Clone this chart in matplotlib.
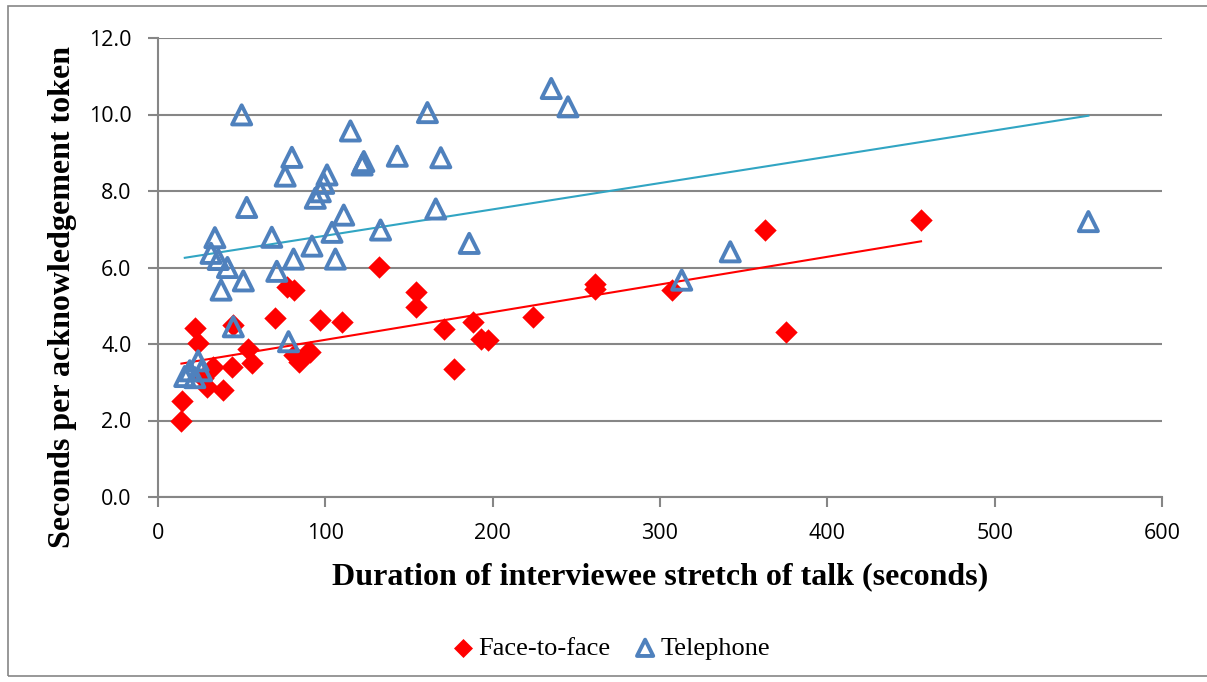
import numpy as np
import matplotlib.pyplot as plt
from matplotlib.patches import Rectangle
from matplotlib.ticker import FormatStrFormatter

# face-to-face interviews
f2f_dur = [14, 14.5, 22, 24, 27, 29, 33, 39, 44, 45, 54, 56, 70, 77, 81, 81, 84, 89, 91,
           97, 110, 132, 154, 154, 171, 177, 188, 193, 197, 224, 261, 261, 307, 363, 375, 456]
f2f_sec = [2.0, 2.5, 4.42, 4.03, 3.1, 2.88, 3.41, 2.8, 3.41, 4.5, 3.87, 3.5, 4.67, 5.5, 5.4, 3.71,
           3.54, 3.76, 3.8, 4.63, 4.58, 6.02, 5.37, 4.98, 4.4, 3.34, 4.58, 4.13, 4.1, 4.7, 5.57,
           5.45, 5.4, 6.98, 4.32, 7.24]

# telephone interviews
tel_dur = [16, 19, 22, 24, 26, 31.7, 34, 36, 37.7, 41.5, 45, 50, 51, 53, 68, 71, 76, 78,
           80, 81, 92, 94, 97, 99, 101, 104, 106, 111, 115, 122, 123, 133, 143, 161, 166, 169,
           186, 235, 245, 313, 342, 556]
tel_sec = [3.15, 3.3, 3.12, 3.56, 3.3, 6.37, 6.78, 6.21, 5.41, 6.0, 4.45, 9.99, 5.65,
           7.57, 6.79, 5.9, 8.39, 4.06, 8.88, 6.22, 6.56, 7.81, 7.98, 8.2, 8.42, 6.92, 6.22, 7.37,
           9.57, 8.68, 8.77, 6.98, 8.91, 10.05, 7.53, 8.87, 6.63, 10.68, 10.2, 5.67, 6.41, 7.2]

grey = '#868686'
fig = plt.figure(figsize=(12.07, 6.82), dpi=100)
fig.patches.append(Rectangle((8 / 1207, 6 / 682), 1.0, 670 / 682, transform=fig.transFigure,
                             fill=False, edgecolor=grey, linewidth=1.2))
ax = fig.add_axes([158 / 1207, 1 - 497 / 682, 1004 / 1207, 459 / 682])

# linear trendlines, spanning the data like Excel does
for x, y, c in [(f2f_dur, f2f_sec, '#FF0000'), (tel_dur, tel_sec, '#31A5C3')]:
    k, b = np.polyfit(x, y, 1)
    xs = np.array([min(x), max(x)])
    ax.plot(xs, k * xs + b, color=c, linewidth=1.5, zorder=2)

ax.scatter(f2f_dur, f2f_sec, marker='D', s=130, color='#FF0000', linewidths=0,
           label='Face-to-face', zorder=3)
ax.scatter(tel_dur, tel_sec, marker='^', s=190, facecolors='none', edgecolors='#4F81BD',
           linewidths=2.8, label='Telephone', zorder=4)

ax.set_xlim(0, 600)
ax.set_ylim(0, 12)
ax.set_xticks(np.arange(0, 601, 100))
ax.set_yticks(np.arange(0, 12.1, 2))
ax.yaxis.set_major_formatter(FormatStrFormatter('%.1f'))
ax.grid(axis='y', color=grey, linewidth=1.5)
ax.set_axisbelow(True)
for s in ['top', 'right']:
    ax.spines[s].set_visible(False)
for s in ['left', 'bottom']:
    ax.spines[s].set_color(grey)
    ax.spines[s].set_linewidth(1.5)
ax.tick_params(direction='out', length=7, width=1.5, color=grey, labelsize=15.5, pad=12)
for lab in ax.get_xticklabels() + ax.get_yticklabels():
    lab.set_family('Open Sans')

ax.set_xlabel('Duration of interviewee stretch of talk (seconds)', family='Liberation Serif',
              fontweight='bold', fontsize=23)
ax.set_ylabel('Seconds per acknowledgement token', family='Liberation Serif',
              fontweight='bold', fontsize=23)
ax.xaxis.set_label_coords(0.5, -0.174)
ax.xaxis.label.set_va('center')
ax.yaxis.set_label_coords(-0.0956, 0.436)
ax.yaxis.label.set_va('center')

ax.legend(loc='center', bbox_to_anchor=(0.449, -0.329), ncol=2, frameon=False,
          prop={'family': 'Liberation Serif', 'size': 19}, handletextpad=0.0,
          columnspacing=0.7, markerscale=0.85, handlelength=1.2)

fig.savefig('out.png', dpi=100)
